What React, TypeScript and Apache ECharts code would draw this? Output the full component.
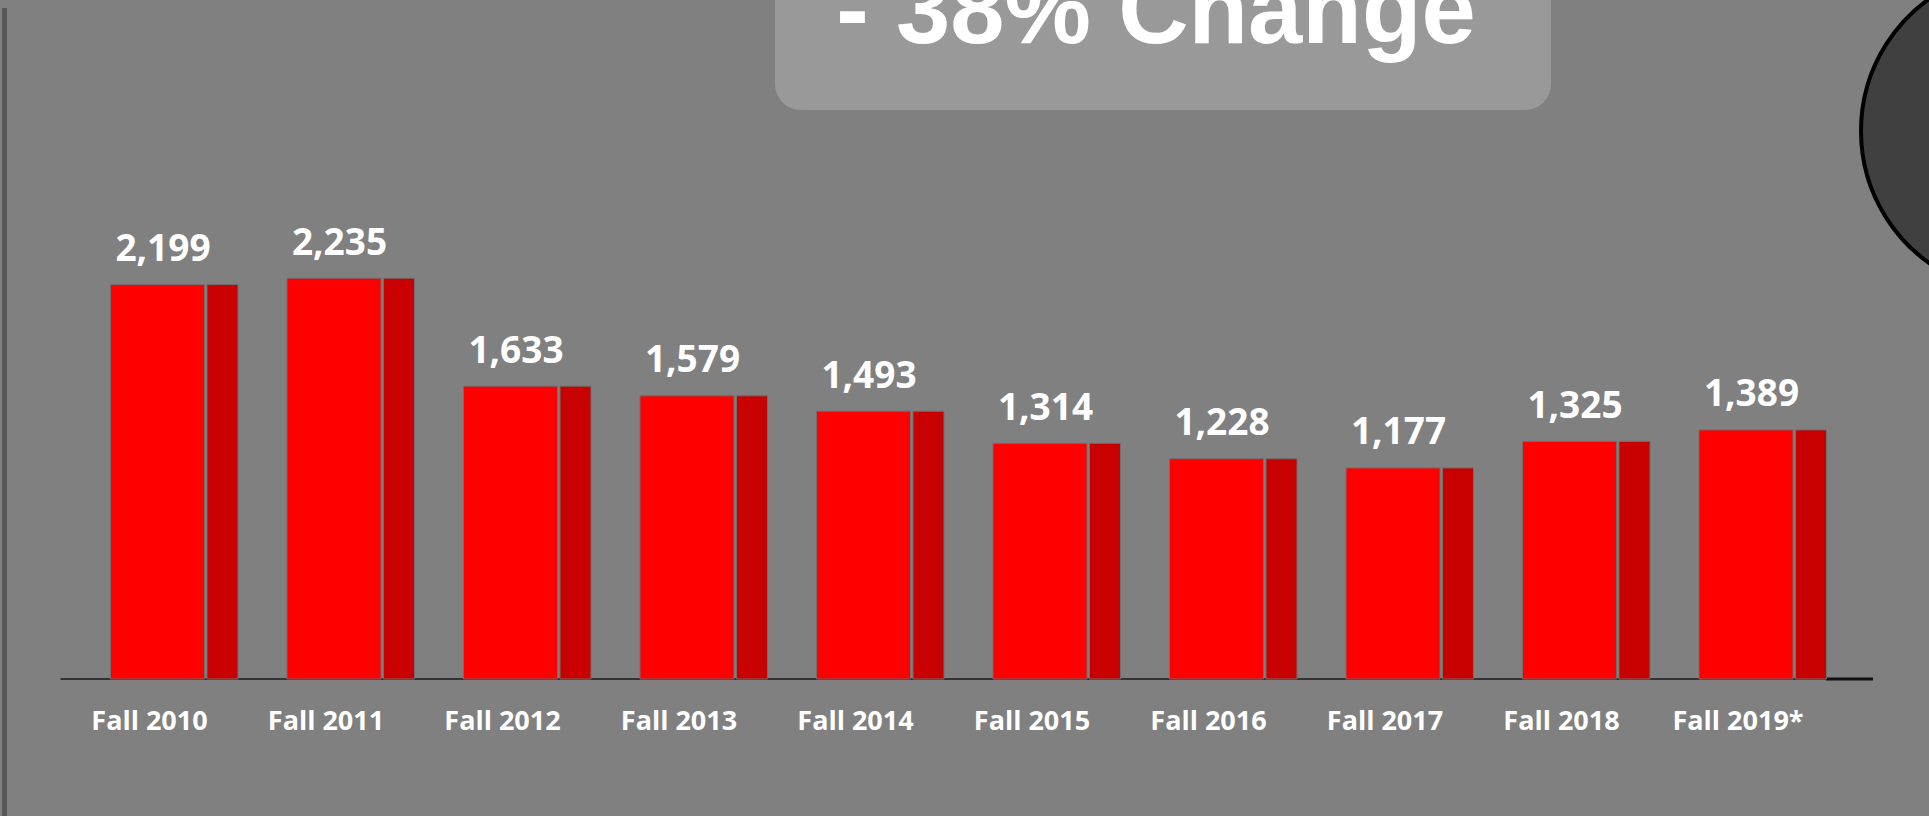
import React, { useEffect, useRef } from "react";
import * as echarts from "echarts";

const categories = ["Fall 2010", "Fall 2011", "Fall 2012", "Fall 2013", "Fall 2014", "Fall 2015", "Fall 2016", "Fall 2017", "Fall 2018", "Fall 2019*"];
const enrollment = [2199, 2235, 1633, 1579, 1493, 1314, 1228, 1177, 1325, 1389];
const titleText = "- 38% Change";

export default function App() {
  const ref = useRef<HTMLDivElement>(null);
  useEffect(() => {
    if (!ref.current) return;
    const chart = echarts.init(ref.current, null, { renderer: "svg" });
    chart.setOption({
      animation: false,
      backgroundColor: "#808080",
      grid: { left: 61.25, right: 102.75, top: 141, bottom: 137 },
      xAxis: {
        type: "category",
        data: categories,
        axisTick: { show: false },
        axisLine: { show: true, lineStyle: { color: "#333333", width: 2 } },
        axisLabel: {
          color: "#ffffff",
          fontFamily: "Open Sans",
          fontWeight: "bold",
          fontSize: 27,
          margin: 27,
        },
      },
      yAxis: { type: "value", min: 0, max: 3000, show: false, splitLine: { show: false } },
      graphic: [
        { type: "rect", left: 2, top: 8, shape: { width: 5, height: 808 }, style: { fill: "#585858" }, z: 1 },
        {
          type: "rect",
          shape: { x: 775, y: -40, width: 776, height: 150, r: 26 },
          style: { fill: "#999999" },
          z: 1,
        },
        {
          type: "text",
          x: 1156,
          y: 9.5,
          style: {
            text: titleText,
            fill: "#ffffff",
            fontFamily: "Liberation Sans",
            fontWeight: "bold",
            fontSize: 97.5,
            align: "center",
            verticalAlign: "middle",
            textAlign: "center",
            textVerticalAlign: "middle",
          },
          z: 2,
        },
        {
          type: "circle",
          shape: { cx: 2023, cy: 131, r: 162 },
          style: { fill: "#404040", stroke: "#000000", lineWidth: 4 },
          z: 2,
        },
        {
          type: "line",
          shape: { x1: 1826, y1: 679, x2: 1873, y2: 679 },
          style: { stroke: "#111111", lineWidth: 3 },
          z: 2,
        },
      ],
      series: [
        {
          type: "custom",
          data: enrollment.map((v, i) => [i, v]),
          encode: { x: 0, y: 1 },
          renderItem: (params: any, api: any) => {
            const i = api.value(0);
            const v = api.value(1);
            const top = api.coord([i, v]);
            const base = api.coord([i, 0]);
            const cx = top[0];
            const h = base[1] - top[1];
            return {
              type: "group",
              children: [
                {
                  type: "rect",
                  shape: { x: cx - 39, y: top[1], width: 94, height: h },
                  style: { fill: "#ff0000", stroke: "#6e6e6e", lineWidth: 1 },
                },
                {
                  type: "rect",
                  shape: { x: cx + 57.5, y: top[1], width: 31, height: h },
                  style: { fill: "#c80000", stroke: "#6e6e6e", lineWidth: 1 },
                },
                {
                  type: "text",
                  x: cx + 13.5,
                  y: top[1] - 38,
                  style: {
                    text: Number(v).toLocaleString("en-US"),
                    fill: "#ffffff",
                    fontFamily: "Open Sans",
                    fontWeight: "bold",
                    fontSize: 37,
                    align: "center",
                    verticalAlign: "middle",
                    textAlign: "center",
                    textVerticalAlign: "middle",
                  },
                },
              ],
            };
          },
        },
      ],
    });
    return () => chart.dispose();
  }, []);
  return <div ref={ref} style={{ position: "fixed", left: 0, top: 0, width: 1929, height: 816 }} />;
}
